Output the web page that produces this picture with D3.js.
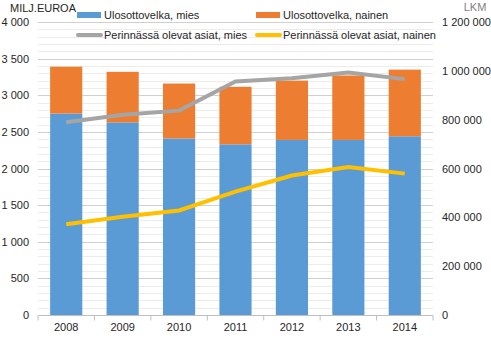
<!DOCTYPE html>
<html lang="fi">
<head>
<meta charset="UTF-8">
<title>Ulosottovelka ja perinnässä olevat asiat</title>
<script src="https://d3js.org/d3.v7.min.js"></script>
<style>
  body { margin: 0; background: #fff; }
  text { font-family: "Liberation Sans", Arial, sans-serif; font-size: 11px; fill: #262626; }
</style>
</head>
<body>
<div id="chart"></div>
<script>
const years = ["2008", "2009", "2010", "2011", "2012", "2013", "2014"];
// milj. euroa
const velkaMies = [2750, 2630, 2410, 2330, 2390, 2390, 2440];
const velkaNainen = [640, 690, 750, 785, 810, 880, 910];
// lkm
const asiatMies = [789000, 820000, 837000, 956000, 970000, 993000, 966000];
const asiatNainen = [372000, 402000, 428000, 505000, 571000, 606000, 579000];
const leftTicks = [0, 500, 1000, 1500, 2000, 2500, 3000, 3500, 4000];
const rightTicks = [0, 200000, 400000, 600000, 800000, 1000000, 1200000];

const W = 491, H = 340;
const m = { top: 22, right: 58, bottom: 25, left: 38 };
const fmt = v => d3.format(",")(v).replace(/,/g, " ");

const svg = d3.select("#chart").append("svg")
    .attr("width", W).attr("height", H);

const x = d3.scaleBand().domain(years)
    .range([m.left, W - m.right]).paddingInner(0.43).paddingOuter(0.215);
const xb = d3.scaleBand().domain(years).range([m.left, W - m.right]);
const yL = d3.scaleLinear().domain([0, 4000]).range([H - m.bottom, m.top]);
const yR = d3.scaleLinear().domain([0, 1200000]).range([H - m.bottom, m.top]);

// gridlines
svg.append("g").selectAll("line")
    .data(d3.range(100, 4001, 100))
    .join("line")
    .attr("x1", m.left).attr("x2", W - m.right)
    .attr("y1", d => Math.round(yL(d)) + 0.5).attr("y2", d => Math.round(yL(d)) + 0.5)
    .attr("stroke", d => d % 500 === 0 ? "#d0d0d0" : "#ececec")
    .attr("stroke-width", 1);

// bars
svg.append("g").selectAll("rect")
    .data(years)
    .join("rect")
    .attr("x", d => x(d)).attr("width", x.bandwidth())
    .attr("y", (d, i) => yL(velkaMies[i]))
    .attr("height", (d, i) => yL(0) - yL(velkaMies[i]))
    .attr("fill", "#5b9bd5");
svg.append("g").selectAll("rect")
    .data(years)
    .join("rect")
    .attr("x", d => x(d)).attr("width", x.bandwidth())
    .attr("y", (d, i) => yL(velkaMies[i] + velkaNainen[i]))
    .attr("height", (d, i) => yL(velkaMies[i]) - yL(velkaMies[i] + velkaNainen[i]))
    .attr("fill", "#ed7d31");

// lines
const line = d3.line()
    .x((d, i) => xb(years[i]) + xb.bandwidth() / 2)
    .y(d => yR(d));
svg.append("path").datum(asiatMies).attr("d", line)
    .attr("fill", "none").attr("stroke", "#a5a5a5").attr("stroke-width", 4);
svg.append("path").datum(asiatNainen).attr("d", line)
    .attr("fill", "none").attr("stroke", "#ffc000").attr("stroke-width", 4);

// x axis
const base = Math.round(yL(0)) + 0.5;
svg.append("line").attr("x1", m.left).attr("x2", W - m.right)
    .attr("y1", base).attr("y2", base).attr("stroke", "#bfbfbf");
svg.append("g").selectAll("line")
    .data(years.concat(["end"]))
    .join("line")
    .attr("x1", d => d === "end" ? W - m.right : xb(d))
    .attr("x2", d => d === "end" ? W - m.right : xb(d))
    .attr("y1", base).attr("y2", base + 5)
    .attr("stroke", "#bfbfbf");
svg.append("g").selectAll("text")
    .data(years)
    .join("text")
    .attr("x", d => xb(d) + xb.bandwidth() / 2)
    .attr("y", H - 9)
    .attr("text-anchor", "middle")
    .text(d => d);

// left axis labels
svg.append("g").selectAll("text")
    .data(leftTicks)
    .join("text")
    .attr("x", 29).attr("y", d => yL(d) + 4)
    .attr("text-anchor", "end")
    .text(d => fmt(d));

// right axis labels
svg.append("g").selectAll("text")
    .data(rightTicks)
    .join("text")
    .attr("x", 442).attr("y", d => yR(d) + 4)
    .text(d => fmt(d));

// axis titles
svg.append("text").attr("x", 10).attr("y", 12).text("MILJ.EUROA");
svg.append("text").attr("x", 475).attr("y", 11).attr("text-anchor", "middle")
    .style("fill", "#7f7f7f").text("LKM");

// legend
const legend = [
    { name: "Ulosottovelka, mies", color: "#5b9bd5", x: 77, y: 15, line: false },
    { name: "Ulosottovelka, nainen", color: "#ed7d31", x: 256, y: 15, line: false },
    { name: "Perinnässä olevat asiat, mies", color: "#a5a5a5", x: 77, y: 35, line: true },
    { name: "Perinnässä olevat asiat, nainen", color: "#ffc000", x: 256, y: 35, line: true }
];
const lg = svg.append("g").selectAll("g").data(legend).join("g")
    .attr("transform", d => `translate(${d.x},${d.y})`);
lg.filter(d => !d.line).append("rect")
    .attr("x", 0).attr("y", -3).attr("width", 24).attr("height", 6)
    .attr("fill", d => d.color);
lg.filter(d => d.line).append("line")
    .attr("x1", 1).attr("x2", 24).attr("y1", 0).attr("y2", 0)
    .attr("stroke", d => d.color).attr("stroke-width", 4).attr("stroke-linecap", "round");
lg.append("text").attr("x", 27).attr("y", 4).text(d => d.name);
</script>
</body>
</html>
